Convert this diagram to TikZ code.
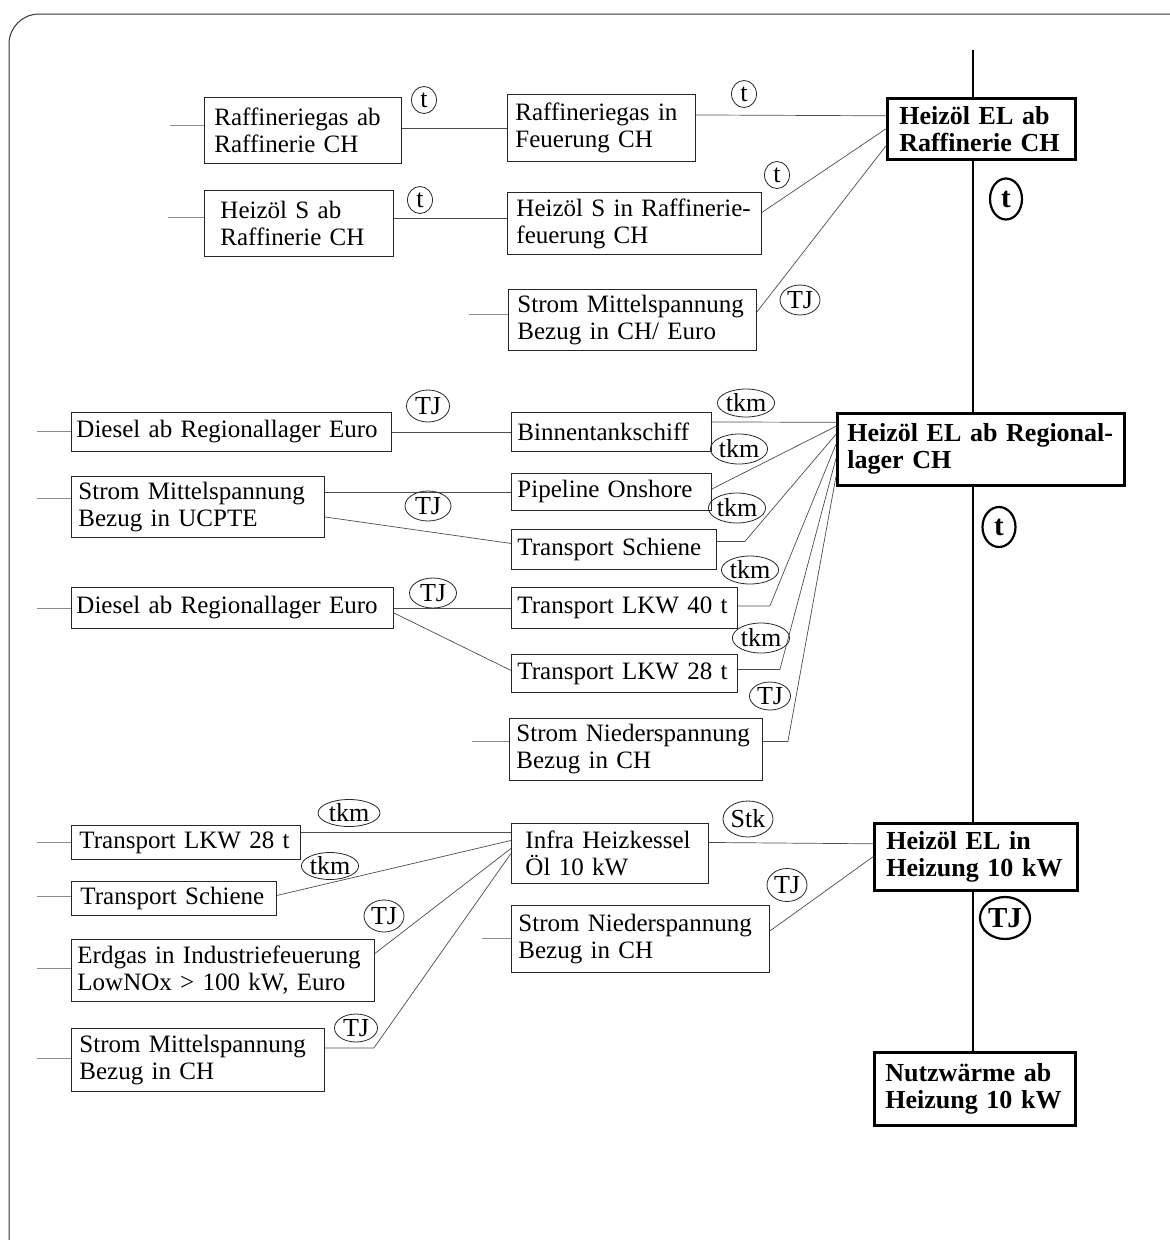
\documentclass[tikz,border=0pt]{standalone}
\usepackage{fontspec}
\setmainfont{Liberation Serif}
\usetikzlibrary{shapes.geometric}

\begin{document}
\begin{tikzpicture}[x=1pt,y=-1pt,
  box/.style={draw=black!85, line width=0.9pt, anchor=north west, align=left,
    inner ysep=0pt, inner xsep=8pt, font=\fontsize{25}{27}\selectfont},
  main/.style={box, draw=black, line width=2.6pt, font=\fontsize{26}{27}\selectfont\bfseries},
  unit/.style={ellipse, draw=black!85, line width=0.8pt, inner sep=0pt,
    font=\fontsize{26}{26}\selectfont},
  bunit/.style={unit, draw=black, line width=2.2pt, font=\fontsize{29}{29}\selectfont\bfseries},
  link/.style={draw=black!70, line width=0.7pt},
  stub/.style={draw=black!45, line width=0.9pt},
  spine/.style={draw=black, line width=2.6pt},
  frame/.style={draw=black!80, line width=1pt}]

\useasboundingbox (0,0) rectangle (1170,1240);
\begin{scope}
  \clip (0,0) rectangle (1170,1240);
  \draw[frame, rounded corners=30pt] (9,14) rectangle (1200,1272);
\end{scope}

% ---- refinery block ----
\node[box, inner xsep=10pt, text width=177pt, minimum height=66pt] (A1) at (204,97) {Raffineriegas ab\\Raffinerie CH};
\node[box, inner xsep=16pt, text width=157pt, minimum height=66pt] (A2) at (204,190) {Heizöl S ab\\Raffinerie CH};
\node[box, inner xsep=8pt, text width=172pt, minimum height=67pt] (B1) at (507,94) {Raffineriegas in\\Feuerung CH};
\node[box, inner xsep=9pt, text width=236pt, minimum height=62pt] (B2) at (507,192) {Heizöl S in Raffinerie-\\feuerung CH};
\node[box, inner xsep=9pt, text width=230pt, minimum height=61pt] (B3) at (508,289) {Strom Mittelspannung\\Bezug in CH/ Euro};
\node[main, inner xsep=12pt, text width=164pt, minimum height=61pt] (H1) at (886,97) {Heizöl EL ab\\Raffinerie CH};

% ---- regional storage block ----
\node[box, inner xsep=5pt, text width=310pt, minimum height=39pt] (C1) at (71,412) {Diesel ab Regionallager Euro};
\node[box, inner xsep=7pt, text width=239pt, minimum height=61pt] (C2) at (71,476) {Strom Mittelspannung\\Bezug in UCPTE};
\node[box, inner xsep=5pt, text width=312pt, minimum height=41pt] (C3) at (71,587) {Diesel ab Regionallager Euro};
\node[box, inner xsep=6pt, text width=188pt, minimum height=39pt] (D1) at (511,412) {Binnentankschiff};
\node[box, inner xsep=6pt, text width=188pt, minimum height=37pt] (D2) at (511,473) {Pipeline Onshore};
\node[box, inner xsep=6pt, text width=193pt, minimum height=40pt] (D3) at (511,529) {Transport Schiene};
\node[box, inner xsep=6pt, text width=214pt, minimum height=41pt] (D4) at (511,587) {Transport LKW 40 t};
\node[box, inner xsep=6pt, text width=214pt, minimum height=38pt] (D5) at (511,654) {Transport LKW 28 t};
\node[box, inner xsep=7pt, text width=239pt, minimum height=62pt] (D6) at (509,718) {Strom Niederspannung\\Bezug in CH};
\node[main, inner xsep=10pt, text width=267pt, minimum height=72pt] (H2) at (836,412) {Heizöl EL ab Regional-\\lager CH};

% ---- heating block ----
\node[box, inner xsep=8pt, text width=213pt, minimum height=34pt] (E1) at (71,825) {Transport LKW 28 t};
\node[box, inner xsep=9pt, text width=187pt, minimum height=34pt] (E2) at (71,881) {Transport Schiene};
\node[box, inner xsep=6pt, text width=291pt, minimum height=62pt] (E3) at (71,939) {Erdgas in Industriefeuerung\\LowNOx > 100 kW, Euro};
\node[box, inner xsep=8pt, text width=237pt, minimum height=63pt] (E4) at (71,1028) {Strom Mittelspannung\\Bezug in CH};
\node[box, inner xsep=14pt, text width=169pt, minimum height=60pt] (F1) at (511,823) {Infra Heizkessel\\Öl 10 kW};
\node[box, inner xsep=7pt, text width=244pt, minimum height=67pt] (F2) at (511,905) {Strom Niederspannung\\Bezug in CH};
\node[main, inner xsep=12pt, text width=179pt, minimum height=67pt] (H3) at (873,822) {Heizöl EL in\\Heizung 10 kW};
\node[main, inner xsep=11pt, text width=179pt, minimum height=73pt] (H4) at (873,1051) {Nutzwärme ab\\Heizung 10 kW};

% ---- main process chain ----
\coordinate (top) at (973,50);
\draw[spine] (top) -- (top |- H1.north);
\draw[spine] (top |- H1.south) -- (top |- H2.north);
\draw[spine] (top |- H2.south) -- (top |- H3.north);
\draw[spine] (top |- H3.south) -- (top |- H4.north);

% ---- open inputs ----
\coordinate (sA1) at (170,125); \draw[stub] (sA1) -- (sA1 -| A1.west);
\coordinate (sA2) at (168,217); \draw[stub] (sA2) -- (sA2 -| A2.west);
\coordinate (sB3) at (469,314); \draw[stub] (sB3) -- (sB3 -| B3.west);
\coordinate (sC1) at (37,431);  \draw[stub] (sC1) -- (sC1 -| C1.west);
\coordinate (sC2) at (37,498);  \draw[stub] (sC2) -- (sC2 -| C2.west);
\coordinate (sC3) at (37,608);  \draw[stub] (sC3) -- (sC3 -| C3.west);
\coordinate (sD6) at (472,741); \draw[stub] (sD6) -- (sD6 -| D6.west);
\coordinate (sE1) at (37,842);  \draw[stub] (sE1) -- (sE1 -| E1.west);
\coordinate (sE2) at (37,896);  \draw[stub] (sE2) -- (sE2 -| E2.west);
\coordinate (sE3) at (37,968);  \draw[stub] (sE3) -- (sE3 -| E3.west);
\coordinate (sE4) at (37,1058); \draw[stub] (sE4) -- (sE4 -| E4.west);
\coordinate (sF2) at (482,938); \draw[stub] (sF2) -- (sF2 -| F2.west);

% ---- flows into the refinery product ----
\draw[link] (B1.west -| A1.east) -- (B1.west);
\draw[link] ([yshift=5pt]A2.east) -- ([yshift=5pt]B2.west);
\draw[link] ([yshift=13pt]B1.east) -- ([yshift=13pt]H1.west);
\draw[link] ([yshift=11pt]B2.east) -- (H1.west);
\draw[link] ([yshift=8pt]B3.east) -- ([yshift=-17pt]H1.west);

% ---- flows into the regional storage ----
\draw[link] (C1.east) -- (C1.east -| D1.west);
\draw[link] (D2.west -| C2.east) -- (D2.west);
\draw[link] ([yshift=-10pt]C2.east) -- ([yshift=6pt]D3.west);
\draw[link] (C3.east) -- (C3.east -| D4.west);
\draw[link] ([yshift=-5pt]C3.east) -- ([yshift=3pt]D5.west);
\draw[link] ([yshift=10pt]D1.east) -- ([yshift=27pt]H2.west);
\draw[link] ([yshift=3pt]D2.east) -- ([yshift=23pt]H2.west);
\draw[link] ([yshift=8pt]D3.east) -- ++(28,0) -- ([yshift=15pt]H2.west);
\draw[link] ([yshift=2pt]D4.east) -- ++(32,0) -- ([yshift=5pt]H2.west);
\draw[link] ([yshift=4pt]D5.east) -- ++(42,0) -- ([yshift=-9pt]H2.west);
\draw[link] ([yshift=8pt]D6.east) -- ++(25,0) -- ([yshift=-27pt]H2.west);

% ---- flows into the boiler ----
\draw[link] ([yshift=10pt]E1.east) -- ([yshift=21pt]F1.west);
\draw[link] ([yshift=3pt]E2.east) -- ([yshift=13pt]F1.west);
\draw[link] ([yshift=17pt]E3.east) -- ([yshift=5pt]F1.west);
\draw[link] ([yshift=12pt]E4.east) -- ++(49,0) -- (F1.west);
\draw[link] ([yshift=11pt]F1.east) -- ([yshift=13pt]H3.west);
\draw[link] ([yshift=8pt]F2.east) -- (H3.west);

% ---- units ----
\node[unit, minimum width=25pt, minimum height=27pt] (u1) at (424,100) {t};
\node[unit, minimum width=25pt, minimum height=27pt] (u2) at (420,200) {t};
\node[unit, minimum width=25pt, minimum height=27pt] (u3) at (744,94) {t};
\node[unit, minimum width=25pt, minimum height=27pt] (u4) at (777,175) {t};
\node[unit, minimum width=40pt, minimum height=30pt] (u5) at (800,300) {TJ};
\node[bunit, minimum width=32pt, minimum height=41pt] (u6) at (1006,199) {t};

\node[unit, minimum width=43pt, minimum height=32pt] (u7) at (428,406) {TJ};
\node[unit, minimum width=46pt, minimum height=30pt] (u8) at (428,506) {TJ};
\node[unit, minimum width=47pt, minimum height=30pt] (u9) at (433,593) {TJ};
\node[unit, minimum width=50pt, minimum height=28pt] (u10) at (746,403) {tkm};
\node[unit, minimum width=48pt, minimum height=30pt] (u11) at (739,449) {tkm};
\node[unit, minimum width=48pt, minimum height=30pt] (u12) at (737,508) {tkm};
\node[unit, minimum width=48pt, minimum height=28pt] (u13) at (750,570) {tkm};
\node[unit, minimum width=50pt, minimum height=30pt] (u14) at (761,638) {tkm};
\node[unit, minimum width=41pt, minimum height=28pt] (u15) at (770,696) {TJ};
\node[bunit, minimum width=33pt, minimum height=40pt] (u16) at (999,527) {t};

\node[unit, minimum width=62pt, minimum height=27pt] (u17) at (349,813) {tkm};
\node[unit, minimum width=55pt, minimum height=27pt] (u18) at (330,866) {tkm};
\node[unit, minimum width=40pt, minimum height=32pt] (u19) at (384,916) {TJ};
\node[unit, minimum width=43pt, minimum height=28pt] (u20) at (356,1028) {TJ};
\node[unit, minimum width=50pt, minimum height=36pt] (u21) at (748,819) {Stk};
\node[unit, minimum width=40pt, minimum height=33pt] (u22) at (787,885) {TJ};
\node[bunit, minimum width=50pt, minimum height=42pt] (u23) at (1005,918) {TJ};

\end{tikzpicture}
\end{document}
